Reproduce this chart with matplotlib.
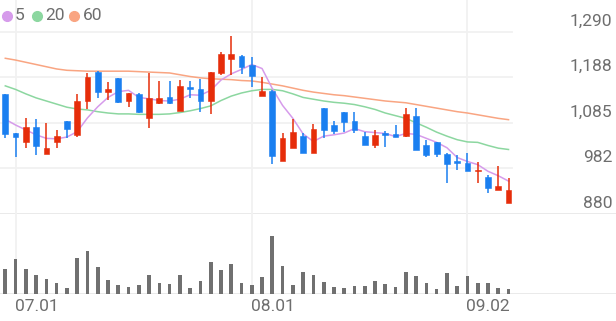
import matplotlib
matplotlib.use('Agg')
import matplotlib.pyplot as plt
import numpy as np

plt.rcParams['font.family'] = ['Roboto', 'DejaVu Sans']

# daily candles, 2024-06-28 .. 2024-09-06
opens = [1149, 1061, 1042, 1076, 1015, 1042, 1089, 1058, 1135, 1200,
         1155, 1185, 1134, 1149, 1095, 1130, 1142, 1112, 1166, 1162,
         1135, 1198, 1228, 1236, 1215, 1146, 1157, 999, 1029, 1055,
         1018, 1118, 1079, 1109, 1090, 1055, 1035, 1061, 1059, 1055,
         1100, 1035, 1041, 1014, 1000, 994, 977, 964, 934, 904]
highs = [1150, 1063, 1096, 1093, 1084, 1069, 1089, 1150, 1196, 1201,
         1177, 1186, 1153, 1151, 1198, 1180, 1180, 1181, 1179, 1183,
         1200, 1245, 1280, 1237, 1232, 1189, 1158, 1061, 1093, 1061,
         1082, 1118, 1088, 1110, 1110, 1065, 1069, 1067, 1080, 1118,
         1118, 1046, 1042, 1016, 1013, 1018, 998, 968, 988, 962]
lows = [1051, 1009, 1028, 1013, 1015, 1029, 1050, 1054, 1115, 1140,
        1136, 1130, 1120, 1107, 1073, 1128, 1128, 1112, 1140, 1110,
        1104, 1192, 1192, 1195, 1166, 1146, 992, 999, 1029, 1018,
        1018, 1050, 1060, 1065, 1061, 1035, 1028, 1030, 1052, 1054,
        1024, 1007, 1009, 949, 979, 977, 950, 928, 934, 904]
closes = [1060, 1052, 1076, 1033, 1029, 1055, 1071, 1135, 1189, 1155,
          1162, 1132, 1151, 1109, 1141, 1141, 1129, 1168, 1161, 1135,
          1200, 1239, 1239, 1211, 1190, 1157, 1010, 1051, 1065, 1018,
          1070, 1069, 1067, 1086, 1069, 1035, 1058, 1058, 1052, 1104,
          1024, 1013, 1014, 992, 994, 977, 979, 938, 943, 935]
volumes = [253, 350, 247, 187, 150, 107, 57, 363, 427, 270,
           140, 93, 67, 87, 190, 110, 97, 187, 60, 127,
           317, 237, 303, 107, 93, 167, 583, 280, 87, 217,
           193, 123, 70, 57, 83, 83, 133, 100, 70, 217,
           177, 110, 47, 206, 81, 185, 115, 115, 61, 51]

ma5 = [1093, 1080, 1069, 1058, 1050, 1049, 1053, 1065, 1096, 1121,
       1142, 1155, 1158, 1142, 1139, 1135, 1134, 1138, 1148, 1147,
       1158, 1181, 1195, 1205, 1216, 1207, 1162, 1124, 1095, 1060,
       1043, 1055, 1058, 1062, 1072, 1065, 1063, 1061, 1054, 1061,
       1059, 1050, 1041, 1029, 1007, 998, 991, 976, 966, 954]
ma20 = [1168, 1160, 1150, 1141, 1134, 1127, 1120, 1116, 1114, 1110,
        1107, 1105, 1105, 1104, 1104, 1104, 1105, 1108, 1112, 1117,
        1123, 1135, 1145, 1152, 1157, 1160, 1160, 1157, 1150, 1142,
        1138, 1134, 1131, 1129, 1126, 1121, 1115, 1107, 1101, 1095,
        1085, 1075, 1064, 1055, 1047, 1042, 1041, 1034, 1028, 1025]
ma60 = [1230, 1226, 1221, 1216, 1211, 1206, 1203, 1202, 1201, 1201,
        1201, 1201, 1201, 1200, 1199, 1198, 1197, 1193, 1189, 1186,
        1184, 1183, 1182, 1180, 1179, 1176, 1172, 1168, 1163, 1158,
        1154, 1151, 1148, 1146, 1143, 1140, 1137, 1134, 1132, 1130,
        1126, 1122, 1118, 1114, 1110, 1107, 1103, 1099, 1095, 1092]

price_ticks = [880, 982.5, 1085, 1187.5, 1290]
price_labels = ['880', '982', '1,085', '1,188', '1,290']
date_pos = [1, 24, 45]
date_labels = ['07.01', '08.01', '09.02']
ma_names = ['5', '20', '60']

UP = '#E62D0A'
DOWN = '#1A7FF0'
MA_COLORS = ['#D69BEB', '#8CD7A0', '#F9A582']
GRID = '#F1F1F1'
TXT = '#6E6E6E'
FS = 12.5

W, H = 616, 321
fig = plt.figure(figsize=(W / 100, H / 100), dpi=100)
fig.patch.set_facecolor('white')

xmin = -0.516
xmax = xmin + W / 10.27
ax = fig.add_axes([0, 107 / H, 1, 214 / H])
axv = fig.add_axes([0, 27 / H, 1, 80 / H])
for a in (ax, axv):
    a.axis('off')
    a.set_xlim(xmin, xmax)
ax.set_ylim(880, 880 + 214 / 0.4449)
axv.set_ylim(0, 800)

x = np.arange(len(closes))
grid_right = 512 / W

# grid
for i, t in enumerate(price_ticks):
    ax.axhline(t, xmin=0, xmax=1 if i == 0 else grid_right,
               color=GRID if i else '#E8E8E8', lw=1.3, zorder=0)
    ax.annotate(price_labels[i], xy=(1, t), xycoords=('axes fraction', 'data'),
                xytext=(-4, 6), textcoords='offset pixels', ha='right', va='baseline',
                fontsize=FS, color=TXT)
for p in date_pos:
    ax.axvline(p, color=GRID, lw=1.3, zorder=0)
    axv.axvline(p, color=GRID, lw=1.3, zorder=0)
axv.axhline(0, color='#E8E8E8', lw=1.3, zorder=0)
for p, lab in zip(date_pos, date_labels):
    axv.annotate(lab, xy=(p, 0), xycoords='data', xytext=(-1, -17),
                 textcoords='offset pixels', ha='left', va='baseline',
                 fontsize=FS, color=TXT, annotation_clip=False)

# moving averages
for ma, c in zip([ma60, ma20, ma5], MA_COLORS[::-1]):
    ax.plot(x, ma, color=c, lw=1.1, zorder=2)

# candles
colors = [UP if c >= o else DOWN for o, c in zip(opens, closes)]
ax.vlines(x, lows, highs, colors=colors, lw=1.1, zorder=3)
bottoms = np.minimum(opens, closes)
heights = np.maximum(np.abs(np.array(closes) - np.array(opens)), 2)
ax.bar(x, heights, bottom=bottoms, width=0.56, color=colors, edgecolor=colors, lw=0.4, zorder=4)

# volume
axv.bar(x, volumes, width=0.36, color='#707070', zorder=2)

# legend
lx = [6.7, 37.3, 74]
tx = [15, 45.5, 83]
for cx, tx_, c, name in zip(lx, tx, MA_COLORS, ma_names):
    fig.add_artist(plt.Line2D([cx / W], [1 - 15.7 / H], marker='o', markersize=7,
                              color=c, transform=fig.transFigure))
    fig.text(tx_ / W, 1 - 15.7 / H, name, ha='left', va='center', fontsize=FS, color=TXT)

fig.savefig('out.png', dpi=100, facecolor='white')
